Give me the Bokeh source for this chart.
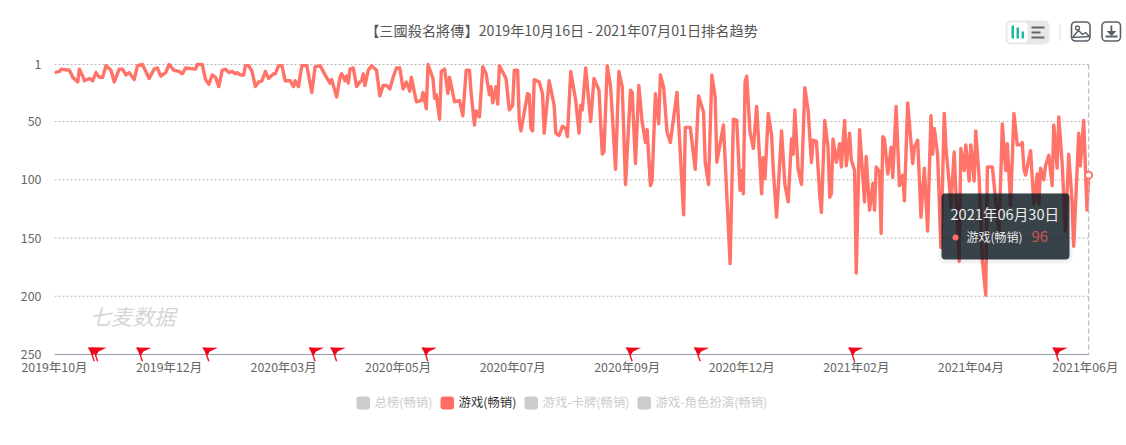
from bokeh.plotting import figure
from bokeh.layouts import column
from bokeh.embed import file_html
from bokeh.resources import INLINE
from bokeh.models import Range1d, FixedTicker, Label, BoxAnnotation, PolyAnnotation

FONT = "Noto Sans CJK SC"
TITLE = "【三國殺名將傳】2019年10月16日 - 2021年07月01日排名趋势"

# day offset from 2019-10-16 at each readable turning point of the line, and its rank
days = [0,3,4,9,11,14,15,17,18,21,23,25,27,29,31,34,36,39,41,43,45,48,50,53,57,60,62,64,67,69,72,75,77,79,85,86,89,91,93,95,97,99,101,103,105,107,109,110,112,114,115,117,119,121,123,125,127,129,132,133,135,137,139,142,144,145,147,149,152,155,157,160,163,166,167,170,172,173,175,176,177,178,180,182,184,185,186,187,189,191,194,196,198,200,202,204,206,208,
        210,212,214,215,218,221,222,224,225,228,229,230,232,233,235,237,238,241,244,246,248,250,251,253,254,256,258,260,262,263,264,266,267,268,272,274,276,277,279,280,281,285,286,287,288,289,292,294,295,298,301,302,304,306,308,309,311,314,316,317,318,320,323,325,328,330,331,333,335,338,340,342,344,347,348,350,352,354,356,357,359,360,362,364,365,367,369,371,375,379,380,383,386,388,391,392,394,396,398,399,403,407,409,411,413,414,415,416,417,419,421,423,426,427,428,430,432,433,435,438,440,442,444,445,446,448,450,
        452,454,456,457,459,461,462,464,466,467,468,469,471,473,474,476,477,479,480,482,483,485,488,489,491,493,494,495,497,498,499,500,502,504,505,507,509,511,512,514,517,518,520,522,524,526,528,529,530,532,534,536,537,539,540,542,543,545,546,548,549,551,552,554,555,557,559,561,562,565,569,571,573,574,576,578,580,582,583,584,585,588,590,592,593,594,596,597,599,601,602,604,605,607,609,611,613,614,617,618,620,622,623]
ranks = [8,7,5,6,12,16,5,11,15,13,15,8,12,12,2,6,16,5,5,10,8,14,2,1,13,5,4,11,8,1,6,7,9,4,5,1,1,14,18,10,12,20,6,5,8,7,9,8,10,10,2,2,7,20,16,15,7,13,9,9,2,2,15,15,20,15,20,2,2,25,3,2,10,17,14,29,12,9,15,11,17,5,4,20,16,15,9,19,6,2,6,28,19,19,22,12,4,4,
         22,16,24,12,33,32,25,39,1,13,30,27,48,7,5,26,12,33,32,45,6,6,26,53,41,46,3,9,27,20,34,20,35,2,13,40,36,6,6,49,58,26,27,56,58,14,16,26,60,15,36,60,62,54,56,63,7,32,60,36,40,4,50,13,23,78,76,2,20,91,7,20,104,23,25,86,19,50,68,57,105,101,26,52,10,21,59,68,25,130,55,55,91,28,42,85,104,10,29,85,53,172,48,49,109,92,112,16,11,59,73,37,112,81,99,43,62,91,132,58,104,119,65,78,40,91,104,
         21,40,85,66,67,113,128,49,72,115,112,65,85,69,89,49,88,60,83,92,180,57,119,80,126,103,126,89,93,146,63,65,95,72,98,37,105,96,118,34,86,72,66,132,90,144,45,78,56,78,158,43,72,103,123,76,109,170,73,92,70,101,70,101,58,98,170,199,89,89,147,52,92,69,122,43,70,70,68,91,96,75,121,95,121,90,100,88,79,105,53,90,46,85,144,78,118,157,60,88,49,126,96]

tick_days = [0,69,138,207,276,345,414,483,552,621]
tick_labels = ["2019年10月","2019年12月","2020年03月","2020年05月","2020年07月","2020年09月","2020年12月","2021年02月","2021年04月","2021年06月"]
rank_ticks = [1,50,100,150,200,250]
flag_days = [24,26,53,93,157,170,225,348,389,482,605]
legend_names = ["总榜(畅销)","游戏(畅销)","游戏-卡牌(畅销)","游戏-角色扮演(畅销)"]
tip_date = "2021年06月30日"
tip_name = "游戏(畅销)"
tip_rank = 96

RED = "#ff7369"
W = 1126
HEAD_H, MAIN_H, LEG_H = 50, 334, 61


def strip(height):
    f = figure(width=W, height=height, output_backend="svg", toolbar_location=None,
               x_range=Range1d(0, 1), y_range=Range1d(0, 1), min_border=0,
               background_fill_color="white", border_fill_color="white")
    f.outline_line_color = None
    f.axis.visible = False
    f.grid.visible = False
    return f


head = strip(HEAD_H)
leg = strip(LEG_H)

p = figure(width=W, height=MAIN_H, output_backend="svg", toolbar_location=None,
           x_range=Range1d(0, 645.8), y_range=Range1d(256, -11),
           min_border_left=54, min_border_right=0, min_border_top=0, min_border_bottom=23,
           background_fill_color="white", border_fill_color="white")
p.outline_line_color = None
p.grid.visible = False

ya = p.yaxis[0]
ya.ticker = FixedTicker(ticks=rank_ticks)
ya.axis_line_color = None
ya.major_tick_line_color = None
ya.minor_tick_line_color = None
ya.major_label_standoff = 7
ya.major_label_text_color = "#666666"
ya.major_label_text_font = FONT
ya.major_label_text_font_size = "12.4px"

xa = p.xaxis[0]
xa.ticker = FixedTicker(ticks=tick_days)
xa.major_label_overrides = dict(zip(tick_days, tick_labels))
xa.axis_line_color = None
xa.major_tick_line_color = None
xa.minor_tick_line_color = None
xa.major_tick_out = 0
xa.major_label_standoff = -4
xa.major_label_text_color = "#666666"
xa.major_label_text_font = FONT
xa.major_label_text_font_size = "12.4px"

# gridlines, axis line and hover crosshair, through the data scales
p.segment(x0=[0] * len(rank_ticks), y0=rank_ticks, x1=[623] * len(rank_ticks), y1=rank_ticks,
          line_color="#b8b8b8", line_width=1, line_dash="2 2")
p.segment(x0=[0], y0=[250], x1=[623], y1=[250], line_color="#929db0", line_width=1)
p.line(days, ranks, line_color=RED, line_width=3.4, line_join="round")
p.segment(x0=[623], y0=[1], x1=[623], y1=[250], line_color="#b9b6c6", line_width=1.2, line_dash="5 3")
p.scatter(days[-1:], ranks[-1:], size=7, fill_color="white", line_color=RED, line_width=2)

# flags: shape offsets in days / ranks about each event day
PX_DAY, PX_RANK = 1 / 1.66, 1 / 1.1647
fx, fy = [], []
px0, py0, px1, py1 = [], [], [], []
for d in flag_days:
    fx.append([d - 6.7 * PX_DAY, d + 9 * PX_DAY, d + 1 * PX_DAY, d - 1.7 * PX_DAY, d - 3.5 * PX_DAY])
    fy.append([250 - 7 * PX_RANK, 250 - 6.7 * PX_RANK, 250 - 3 * PX_RANK, 250 + 1 * PX_RANK, 250 - 2 * PX_RANK])
    px0.append(d - 4.7 * PX_DAY); py0.append(250 - 7 * PX_RANK)
    px1.append(d); py1.append(250 + 7 * PX_RANK)
p.segment(px0, py0, px1, py1, line_color="#f0141e", line_width=1.4)
p.patches(fx, fy, fill_color="#f0081a", line_color=None)


def box(f, top0, l, t, r, b, fill=None, alpha=1.0, line=None, lw=1, radius=0):
    f.add_layout(BoxAnnotation(left=l, right=r, top=t - top0, bottom=b - top0,
                               left_units="canvas", right_units="canvas", top_units="canvas", bottom_units="canvas",
                               fill_color=fill, fill_alpha=alpha if fill else 0, line_color=line,
                               line_alpha=1 if line else 0, line_width=lw, border_radius=radius, level="annotation"))


def poly(f, top0, xs, ys, fill=None, line="#555555", lw=1.5):
    f.add_layout(PolyAnnotation(xs=xs, ys=[y - top0 for y in ys], xs_units="canvas", ys_units="canvas",
                                fill_color=fill, fill_alpha=1 if fill else 0, line_color=line,
                                line_alpha=1 if line else 0, line_width=lw, level="annotation"))


def text(f, top0, x, y, s, size, color, align="left", style="normal"):
    f.add_layout(Label(x=x, y=y - 1.5 - top0, x_units="canvas", y_units="canvas", text=s,
                       text_font=FONT, text_font_size=f"{size}px", text_color=color,
                       text_align=align, text_baseline="middle", text_font_style=style, level="annotation"))


text(head, 0, 561, 30.5, TITLE, 14.2, "#555555", "center")
text(p, HEAD_H, 89, 316, "七麦数据", 21.5, "#d6d6d6", style="italic")

# legend
L0 = HEAD_H + MAIN_H
for i, (name, sx, tx) in enumerate(zip(legend_names, [356, 440, 524, 637], [374, 458, 542, 655])):
    on = i == 1
    box(leg, L0, sx, 396, sx + 13.5, 409, fill="#ff6d64" if on else "#cccccc", radius=3)
    text(leg, L0, tx, 402.5, name, 12.4, "#333333" if on else "#cccccc")

# tooltip
M0 = HEAD_H
box(p, M0, 938, 192, 1072, 263, fill="#000000", alpha=0.05, radius=7)
box(p, M0, 941, 193, 1069, 259, fill="#09151e", alpha=0.8, radius=4)
text(p, M0, 950, 214, tip_date, 14.6, "#eeeeee")
box(p, M0, 952, 234, 958, 240, fill="#ff6d64", radius=3)
text(p, M0, 966, 237, tip_name, 12, "#eeeeee")
text(p, M0, 1031, 237, str(tip_rank), 15, "#c9574f")

# toolbar icons
box(head, 0, 1005, 20, 1049, 44, fill="#e8e8e8", radius=5)
box(head, 0, 1007, 22, 1027, 42, fill="#ffffff", radius=4)
for l, t in [(1011, 25), (1016, 27), (1021, 31)]:
    box(head, 0, l, t, l + 2.5, 38, fill="#1fb8a0")
for l, t, r in [(1031, 26, 1044), (1031, 31, 1040), (1031, 36, 1044)]:
    box(head, 0, l, t, r, t + 2, fill="#666666")
box(head, 0, 1059, 24, 1060, 40, fill="#dddddd")
box(head, 0, 1071, 21.5, 1089.5, 40.5, line="#5a6068", lw=1.6, radius=4)
poly(head, 0, [1072, 1078, 1082, 1085, 1089], [37, 30, 34, 32, 36], line="#5a6068")
box(head, 0, 1075, 25.5, 1079, 29.5, line="#5a6068", lw=1.3, radius=2)
box(head, 0, 1101.5, 21.5, 1120, 40.5, line="#5a6068", lw=1.6, radius=4)
box(head, 0, 1110, 25, 1111.8, 33, fill="#5a6068")
poly(head, 0, [1107, 1111, 1115], [31, 35, 31], fill="#5a6068", line="#5a6068", lw=1)
box(head, 0, 1105, 35, 1117, 37, fill="#5a6068")

page = column(head, p, leg, spacing=0)
open("out.html", "w").write(file_html(page, INLINE))
